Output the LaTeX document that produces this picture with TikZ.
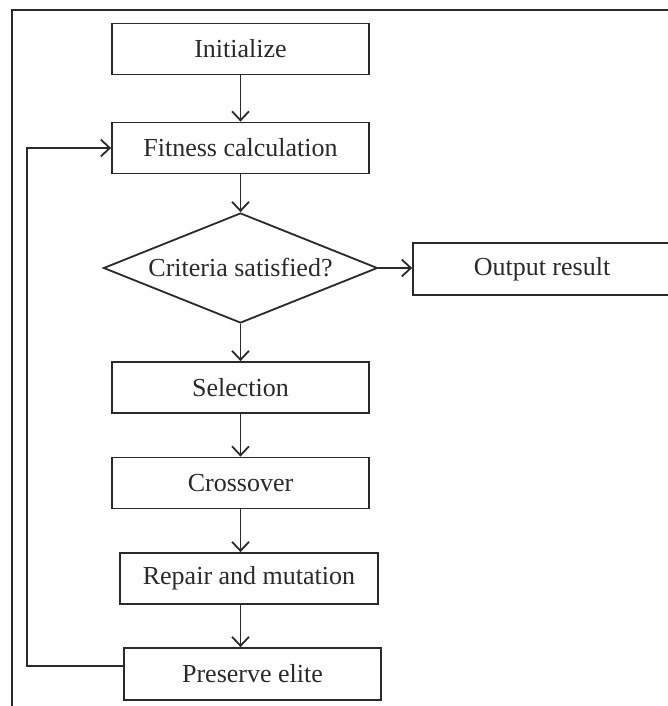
\documentclass[tikz,border=0pt]{standalone}
\usepackage{fontspec}
\setmainfont{Liberation Serif}
\usetikzlibrary{shapes.geometric,arrows.meta,calc}
\definecolor{ink}{HTML}{2A2A2A}
\tikzset{
  box/.style={draw=ink, line width=1.8pt, rectangle, minimum width=257pt, minimum height=51pt, inner sep=0pt, text=ink, font=\fontsize{26}{30}\selectfont},
  dia/.style={draw=ink, line width=1.8pt, diamond, shape aspect=2.49, minimum width=274pt, minimum height=110pt, inner sep=0pt, text=ink, font=\fontsize{26}{30}\selectfont},
  arr/.style={draw=ink, line width=1.8pt, -{Straight Barb[length=9pt,width=17pt,line width=1.8pt]}},
}
\begin{document}
\begin{tikzpicture}[x=1pt,y=-1pt]
\clip (0,0) rectangle (668,706);
\fill[white] (0,0) rectangle (668,706);
\draw[ink, line width=2.2pt] (12,10) rectangle (720,760);
\node[box] (init) at (240.5,49) {Initialize};
\node[box] (fit) at (240.5,148) {Fitness calculation};
\node[dia] (crit) at (240.5,268) {Criteria satisfied?};
\node[box, minimum width=258pt, minimum height=52pt] (out) at (542,269) {Output result};
\node[box] (sel) at (240.5,387.5) {Selection};
\node[box] (cro) at (240.5,483) {Crossover};
\node[box, minimum width=258pt] (rep) at (249,578.5) {Repair and mutation};
\node[box, minimum height=52pt] (pre) at (252.5,674) {Preserve elite};
\coordinate (lp) at (27,666);
\draw[arr] (init.south) -- (fit.north);
\draw[arr] (fit.south) -- (crit.north);
\draw[arr] (crit.east) -- (out.west |- crit.east);
\draw[arr] (crit.south) -- (sel.north);
\draw[arr] (sel.south) -- (cro.north);
\draw[arr] (cro.south) -- (cro.south |- rep.north);
\draw[arr] (cro.south |- rep.south) -- (cro.south |- pre.north);
\draw[arr] (pre.west |- lp) -- (lp) |- (fit.west);
\end{tikzpicture}
\end{document}
